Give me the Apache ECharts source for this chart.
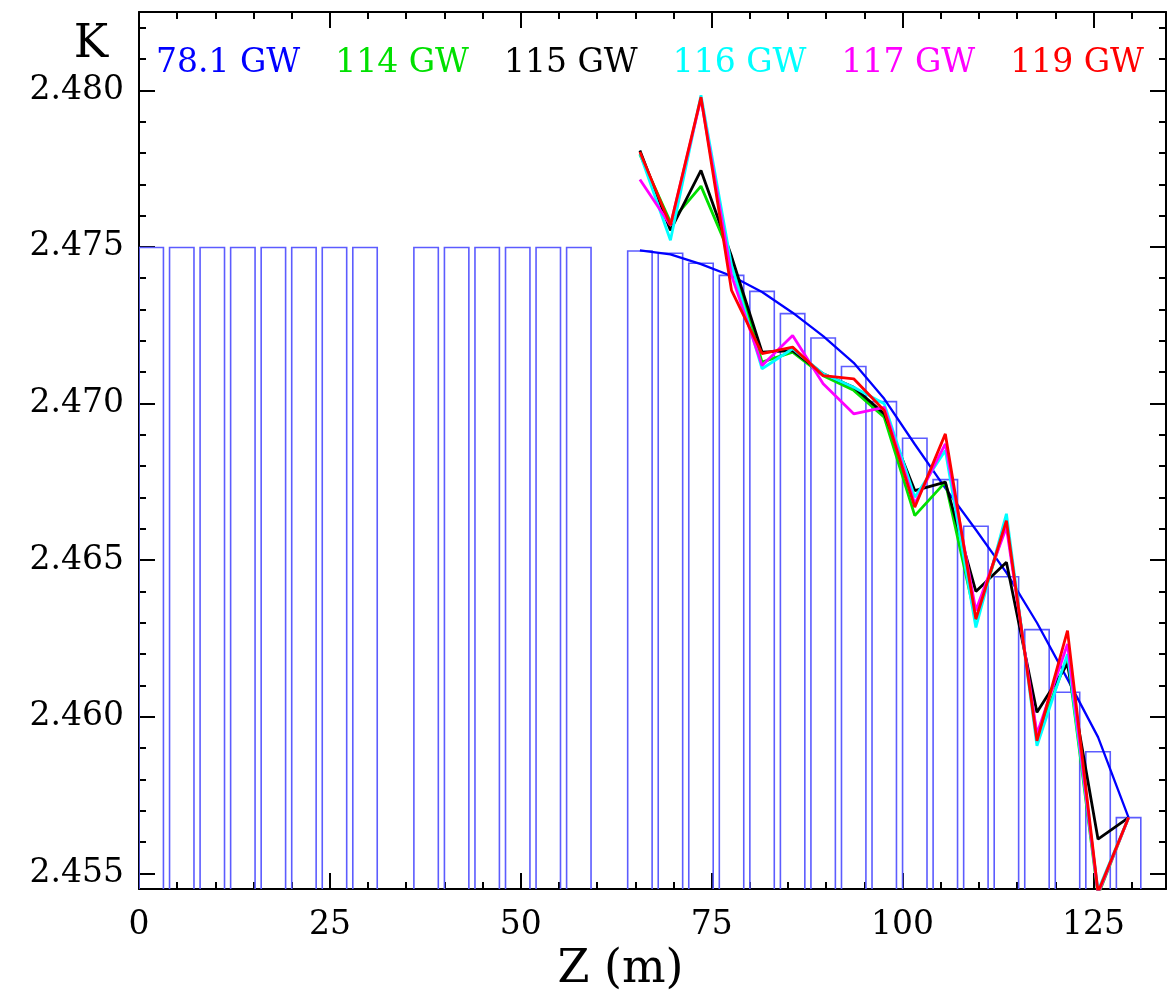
<!DOCTYPE html>
<html>
<head>
<meta charset="utf-8">
<title>K taper</title>
<script src="https://cdn.jsdelivr.net/npm/echarts@6/dist/echarts.min.js"></script>
<style>
    html, body { margin: 0; padding: 0; background: #fff; }
    #chart { width: 1167px; height: 999px; }
</style>
</head>
<body>
<div id="chart"></div>
<script>
// undulator segments: start position (m) and K
const SEG_LEN = 3.2;
const segZ = [0, 4, 8, 12, 16, 20, 24, 28, 36, 40, 44, 48, 52, 56, 64, 68, 72, 76, 80, 84, 88, 92, 96, 100, 104, 108, 112, 116, 120, 124, 128];
const segK = [
    2.47498, 2.47498, 2.47498, 2.47498, 2.47498, 2.47498, 2.47498, 2.47498,
    2.47498, 2.47498, 2.47498, 2.47498, 2.47498, 2.47498,
    2.47487, 2.4748, 2.47448, 2.47409, 2.47358, 2.47287, 2.47209, 2.47118, 2.47006,
    2.46889, 2.46757, 2.46608, 2.46447, 2.46278, 2.46078, 2.45888, 2.45678,
];

// optimised K at segment centres, one list per power
const zPts = [65.6, 69.6, 73.6, 77.6, 81.6, 85.6, 89.6, 93.6, 97.6, 101.6, 105.6, 109.6, 113.6, 117.6, 121.6, 125.6, 129.6];
const k78 = [2.47489, 2.47476, 2.47445, 2.47407, 2.47356, 2.4729, 2.47215, 2.4713, 2.47015, 2.4687, 2.4673, 2.46597, 2.4646, 2.463, 2.4612, 2.45935, 2.45678];
const k114 = [2.47795, 2.47579, 2.47694, 2.47465, 2.47132, 2.47164, 2.47089, 2.47042, 2.46956, 2.46642, 2.46749, 2.4631, 2.4662, 2.45934, 2.4619, 2.4543, 2.45678];
const k115 = [2.47808, 2.47553, 2.47744, 2.4747, 2.47164, 2.47169, 2.47095, 2.47052, 2.46967, 2.46722, 2.46749, 2.464, 2.46493, 2.46014, 2.46168, 2.45609, 2.45678];
const k116 = [2.47798, 2.47521, 2.47984, 2.47441, 2.47111, 2.47175, 2.47095, 2.47052, 2.46999, 2.46701, 2.4685, 2.46285, 2.46648, 2.45907, 2.462, 2.45445, 2.45678];
const k117 = [2.47715, 2.47569, 2.47973, 2.47409, 2.47121, 2.47217, 2.47063, 2.46967, 2.46988, 2.4668, 2.46871, 2.46339, 2.46605, 2.45945, 2.46232, 2.45435, 2.45678];
const k119 = [2.47803, 2.47569, 2.47978, 2.47361, 2.47159, 2.4718, 2.47089, 2.47079, 2.46978, 2.46669, 2.46903, 2.46312, 2.46626, 2.45923, 2.46275, 2.4544, 2.45678];

const lineNames = ["78.1 GW", "114 GW", "115 GW", "116 GW", "117 GW", "119 GW"];
const lineColors = ["#0000ff", "#00e000", "#000000", "#00ffff", "#ff00ff", "#ff0000"];
const lineData = [k78, k114, k115, k116, k117, k119];

const FONT = "DejaVu Serif";

var chart = echarts.init(document.getElementById("chart"), null, { renderer: "canvas" });

function makeXAxis(pos) {
    return {
        type: "value",
        position: pos,
        min: 0,
        max: 134.5,
        interval: 25,
        name: pos == "bottom" ? "Z (m)" : "",
        nameLocation: "middle",
        nameGap: 58,
        nameTextStyle: { fontFamily: FONT, fontSize: 46, color: "#000", padding: [0, 64, 0, 0] },
        axisLine: { show: true, onZero: false, lineStyle: { color: "#000", width: 2 } },
        axisTick: { show: true, inside: true, length: 16, lineStyle: { color: "#000", width: 2 } },
        minorTick: { show: true, splitNumber: 5, length: 7, lineStyle: { color: "#000", width: 2 } },
        axisLabel: {
            show: pos == "bottom",
            margin: 20,
            showMaxLabel: false,
            fontFamily: FONT,
            fontSize: 33,
            color: "#000",
        },
        splitLine: { show: false },
    };
}

function makeYAxis(pos) {
    return {
        type: "value",
        position: pos,
        min: 2.4545,
        max: 2.4825,
        splitNumber: 6,
        name: pos == "left" ? "K" : "",
        nameLocation: "end",
        nameGap: -33,
        nameTextStyle: {
            fontFamily: FONT,
            fontSize: 46,
            color: "#000",
            align: "right",
            verticalAlign: "middle",
            padding: [0, 31, 0, 0],
        },
        axisLine: { show: true, onZero: false, lineStyle: { color: "#000", width: 2 } },
        axisTick: { show: true, inside: true, length: 16, lineStyle: { color: "#000", width: 2 } },
        minorTick: { show: true, splitNumber: 5, length: 7, lineStyle: { color: "#000", width: 2 } },
        axisLabel: {
            show: pos == "left",
            margin: 15,
            showMinLabel: false,
            showMaxLabel: false,
            fontFamily: FONT,
            fontSize: 33,
            color: "#000",
            formatter: v => v.toFixed(3),
        },
        splitLine: { show: false },
    };
}

var series = [
    {
        name: "segments",
        type: "custom",
        clip: true,
        z: 1,
        encode: { x: 0, y: 1 },
        data: segZ.map((z, i) => [z, segK[i]]),
        renderItem: function (params, api) {
            var z0 = api.value(0);
            var k = api.value(1);
            var tl = api.coord([z0, k]);
            var tr = api.coord([z0 + SEG_LEN, k]);
            var bottom = params.coordSys.y + params.coordSys.height + 4;
            return {
                type: "rect",
                shape: { x: tl[0], y: tl[1], width: tr[0] - tl[0], height: bottom - tl[1] },
                style: { fill: "none", stroke: "#5c5cff", lineWidth: 1.6 },
            };
        },
    },
];

lineNames.forEach((n, i) => {
    series.push({
        name: n,
        type: "line",
        data: zPts.map((z, j) => [z, lineData[i][j]]),
        showSymbol: false,
        clip: true,
        z: 2 + i,
        color: lineColors[i],
        lineStyle: { color: lineColors[i], width: i == 0 ? 2.3 : 2.8 },
        animation: false,
    });
});

chart.setOption({
    animation: false,
    backgroundColor: "#fff",
    grid: { left: 139, right: 1, top: 12, bottom: 110 },
    legend: {
        data: lineNames.map((n, i) => ({ name: n, icon: "rect", textStyle: { color: lineColors[i] } })),
        left: 146,
        top: 42,
        itemWidth: 0,
        itemHeight: 0,
        itemGap: 30,
        selectedMode: false,
        textStyle: { fontFamily: FONT, fontSize: 33 },
    },
    xAxis: [makeXAxis("bottom"), makeXAxis("top")],
    yAxis: [makeYAxis("left"), makeYAxis("right")],
    series: series,
});
</script>
</body>
</html>
